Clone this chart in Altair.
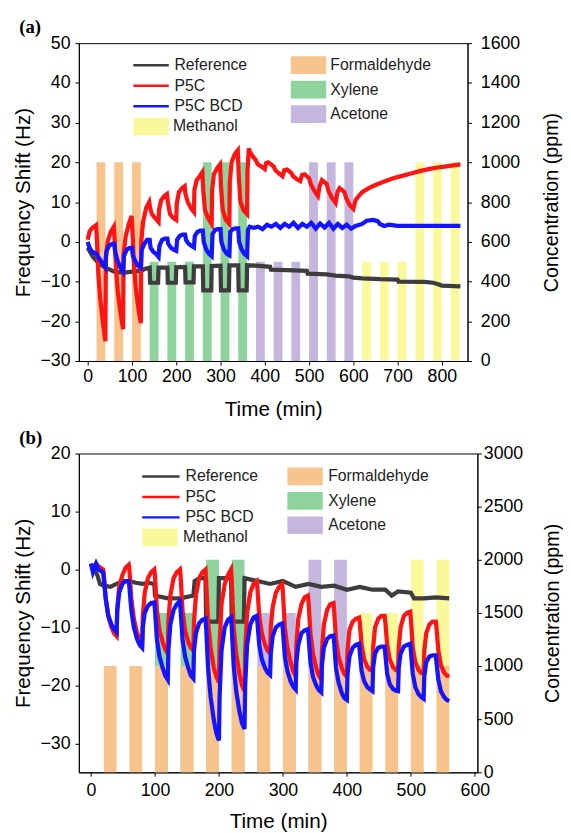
import altair as alt
import pandas as pd

FONT = "Liberation Sans"
SERIES = ["Reference", "P5C", "P5C BCD"]
LINE_COLORS = ["#3d3d3d", "#ff1414", "#1414ff"]
GAS_MAIN = ["Formaldehyde", "Xylene", "Acetone"]
GAS_MAIN_COLORS = ["#f8c48e", "#8ed39b", "#c4b6dc"]
GAS_METH = ["Methanol"]
GAS_METH_COLORS = ["#f9f99c"]

# ---------------- panel (a) ----------------
A_REF_T = [0, 5, 12, 20, 30, 40, 50, 60, 80, 100, 120, 130, 140, 141, 159, 160, 180, 181, 199, 200,
           220, 221, 239, 240, 260, 261, 279, 280, 300, 301, 319, 320, 340, 341, 359, 360, 380, 400,
           412, 414, 450, 495, 497, 540, 560, 590, 600, 620, 660, 700, 702, 760, 780, 790, 800, 842]
A_REF_V = [-1.5, -2.5, -3.8, -4.8, -5.8, -6.5, -7, -7.5, -7.8, -7.5, -7.3, -6.8, -6.5, -10.3, -10.3, -6.5,
           -6.5, -10.3, -10.3, -6.4, -6.3, -10.2, -10.2, -6.2, -6.2, -12.2, -12.2, -6.1, -6.0, -12.2,
           -12.2, -5.9, -5.9, -12.2, -12.2, -5.9, -6, -6.2, -6.3, -7, -7.1, -7.3, -8, -8.2, -8.5, -8.7,
           -9, -9.2, -9.4, -9.5, -10, -10.1, -10.3, -10.6, -11, -11.2]

A_P5C_T = [0, 4, 10, 19, 21, 24, 28, 33, 37, 40, 41, 45, 52, 59, 61, 64, 68, 73, 77, 80, 81, 86, 93, 99,
           101, 104, 108, 113, 117, 120, 121, 125, 132, 139, 141, 145, 152, 160, 161, 166, 173, 179,
           181, 186, 193, 200, 201, 206, 213, 219, 221, 226, 233, 240, 241, 246, 253, 259, 261, 265,
           272, 280, 281, 285, 292, 299, 301, 305, 312, 320, 321, 325, 332, 339, 341, 345, 352, 360,
           361, 364, 367, 373, 380, 384, 392, 400, 403, 408, 414, 420, 424, 432, 440, 444, 450, 455,
           460, 464, 472, 480, 484, 490, 495, 500, 504, 512, 520, 524, 529, 535, 540, 544, 552, 560,
           564, 569, 575, 580, 584, 592, 600, 605, 612, 620, 635, 650, 670, 690, 710, 730, 750, 770,
           790, 810, 830, 842]
A_P5C_V = [0.5, 2.5, 3.5, 4.2, 0, -8, -14, -19, -22.5, -25, -4, 0, 2.5, 3.8, 0, -7, -12.5, -17, -20,
           -22, -3, 1.5, 4.5, 6.5, 3, -5, -11, -15.5, -18.5, -20.5, 0, 5, 8.5, 10, 8.5, 7, 6, 5, 8,
           10.5, 11.5, 12, 10, 7, 6, 5.5, 9.5, 12.5, 13.5, 14, 12, 10, 8.5, 7.5, 13, 15.5, 16.5, 17.5,
           13, 8, 6, 4.5, 13, 17, 18.5, 19.5, 14, 8, 5.5, 4.5, 15, 20, 22, 23, 17, 10, 8, 7, 18, 23.5,
           22.5, 21.5, 20.5, 19.5, 19, 18.3, 19.8, 20, 19.5, 19, 18, 17.2, 16.5, 18, 18.2, 17.8, 17.3,
           16.5, 15.8, 15.3, 16.8, 17, 16.5, 16, 14.5, 12.8, 11.5, 14, 15.5, 15, 14.5, 12.8, 11, 9.8,
           12.5, 13.5, 13, 12.5, 11, 9.2, 8.3, 10.5, 11.5, 12.5, 13.5, 14.3, 15.2, 16, 16.6, 17.2,
           17.8, 18.3, 18.7, 19, 19.3, 19.5]

A_BCD_T = [0, 4, 10, 19, 22, 28, 34, 40, 42, 48, 55, 60, 62, 68, 74, 80, 82, 88, 95, 100, 102, 108,
           114, 120, 122, 128, 134, 140, 142, 148, 154, 160, 162, 168, 174, 180, 182, 188, 194, 200,
           202, 208, 214, 220, 222, 228, 234, 240, 242, 248, 254, 260, 262, 268, 274, 280, 282, 288,
           294, 300, 302, 308, 314, 320, 322, 328, 334, 340, 342, 348, 354, 360, 362, 366, 375, 385,
           395, 405, 415, 425, 435, 445, 455, 465, 475, 485, 495, 505, 515, 525, 535, 545, 555, 565,
           575, 585, 595, 605, 620, 630, 645, 655, 660, 670, 680, 700, 720, 740, 760, 780, 800, 820,
           842]
A_BCD_V = [0, -1.5, -2.5, -3, -3.5, -4.5, -5.5, -6.5, -2.5, -1, -0.5, -0.5, -2.5, -5, -6.5, -7.5,
           -3.5, -2, -1.5, -1.5, -3.5, -5, -6, -6.5, -2, -0.5, 0.5, 0.5, -1.5, -2.5, -3, -3.8, -1,
           0.5, 0.8, 0.8, -0.5, -1.5, -2, -2.3, 0.5, 1.5, 1.8, 1.8, 0.5, -0.5, -1, -1.4, 1.5, 2.5,
           2.8, 2.8, 0, -2, -3, -3.6, 2, 3, 3.2, 3.2, 0, -2, -3, -3.4, 2.5, 3.2, 3.4, 3.4, 0, -2, -3,
           -3.6, 3, 3.8, 3.5, 3.8, 3.2, 4.3, 3.8, 4.5, 3.5, 4.5, 3.8, 4.8, 3.5, 4.5, 3.8, 4.8, 3.3,
           4.6, 3.6, 4.8, 3.3, 4.5, 3.5, 4.3, 3.3, 4, 4.5, 5.3, 5.5, 5.2, 4.5, 4, 4.3, 4, 4, 4, 4, 4,
           4, 4, 4]

A_BAR_GAS = ["Formaldehyde"] * 3 + ["Xylene"] * 6 + ["Acetone"] * 6 + ["Methanol"] * 6
A_BAR_START = [20, 60, 100, 140, 180, 220, 260, 300, 340, 380, 420, 460, 500, 540, 580,
               620, 660, 700, 740, 780, 820]
A_BAR_END = [40, 80, 120, 160, 200, 240, 280, 320, 360, 400, 440, 480, 520, 560, 600,
             640, 680, 720, 760, 800, 840]
A_BAR_CONC = [1000, 1000, 1000, 500, 500, 500, 1000, 1000, 1000, 500, 500, 500, 1000, 1000, 1000,
              500, 500, 500, 1000, 1000, 1000]

# ---------------- panel (b) ----------------
B_REF_T = [0, 5, 10, 14, 20, 30, 40, 50, 60, 70, 80, 90, 99, 100, 120, 140, 160, 162, 170, 179, 180,
           199, 200, 219, 220, 239, 240, 260, 280, 300, 320, 340, 360, 380, 400, 420, 440, 460, 470,
           480, 500, 505, 520, 540, 560]
B_REF_V = [0.5, 0, -1, -2.5, -2.8, -3, -2.5, -2, -2, -2.3, -2.5, -2.3, -2.5, -4.5, -5, -5, -4.5, -2,
           -1.5, -1.5, -9, -9, -1.5, -1.5, -9, -9, -1.5, -2, -2.5, -2, -3, -2.5, -3, -2.8, -3.5, -3,
           -3.5, -3.5, -4.5, -3.8, -4, -5, -5, -4.8, -5]

B_P5C_T = [0, 3, 8, 12, 19, 20, 23, 27, 32, 36, 40, 41, 44, 49, 54, 59, 60, 63, 67, 72, 76, 80, 81,
           84, 89, 94, 99, 100, 103, 107, 112, 116, 120, 121, 124, 129, 134, 139, 140, 143, 147, 152,
           156, 160, 161, 164, 169, 174, 179, 180, 183, 187, 192, 196, 200, 201, 204, 209, 214, 219,
           220, 223, 227, 232, 236, 240, 241, 244, 249, 254, 259, 260, 263, 267, 272, 276, 280, 281,
           284, 289, 294, 299, 300, 303, 307, 312, 316, 320, 321, 324, 329, 334, 339, 340, 343, 347,
           352, 356, 360, 361, 364, 369, 374, 379, 380, 383, 387, 392, 396, 400, 401, 404, 409, 414,
           419, 420, 423, 427, 432, 436, 440, 441, 444, 449, 454, 459, 460, 463, 467, 472, 476, 480,
           481, 484, 489, 494, 499, 500, 503, 507, 512, 516, 520, 521, 524, 529, 534, 539, 540, 543,
           547, 552, 556, 560]
B_P5C_V = [1, 0, 1, 0.5, 0, -1, -5, -8, -10, -11, -11.5, -7, -3, -1, 0.3, 0.8, 0, -5, -8.5, -11, -12,
           -12.5, -8, -4, -1.5, -0.5, 0, -1, -7, -10.5, -12.5, -13.8, -14.5, -9, -4.5, -1.5, -0.5, 0,
           -1, -7, -10.5, -12.5, -13.5, -14, -9, -4.5, -1.5, -0.5, 0, -2, -9, -13.5, -17, -18.5,
           -19.5, -13, -6, -2.5, -1, 0, -2, -10, -14.5, -18, -20, -21, -14, -7.5, -4, -2.5, -2, -3,
           -8, -11, -13, -14, -14.5, -10, -6.5, -4, -3, -2.5, -4, -10, -13.5, -16, -17.5, -18.5, -13,
           -8.5, -6, -4.8, -4.5, -5.5, -11, -14.5, -17, -18.3, -19, -14, -9.5, -7, -6, -5.8, -7, -12,
           -15, -17, -18, -18.5, -14, -10.5, -9, -8.5, -8.3, -9, -13, -15.5, -16.8, -17.3, -17.5,
           -13.5, -10, -8.5, -8, -8, -9, -13, -15.5, -16.8, -17.3, -17.5, -13.5, -10, -8, -7.5, -7.3,
           -8.5, -13.5, -16, -17.3, -17.8, -18, -14, -11, -9.5, -9, -9, -10, -14, -16.5, -17.8,
           -18.3, -18.5]

B_BCD_T = B_P5C_T
B_BCD_V = [1, -0.5, 1, 0, -0.5, -1.5, -5, -8, -9.5, -10.3, -10.8, -7, -4, -2.5, -2, -2, -3, -7,
           -10, -12, -13, -13.5, -10, -7.5, -6.3, -5.8, -5.7, -7, -12, -15, -17, -18.3, -19, -14,
           -9.5, -7, -6, -5.5, -7, -12, -15, -17, -18.3, -18.8, -14, -11, -9.3, -8.7, -8.5, -10,
           -17, -22, -26, -28.3, -29.5, -22, -14, -10, -8.7, -8.3, -10, -16.5, -21, -24.5, -26.5,
           -27.5, -20, -13, -9.5, -8.3, -8, -9, -13, -15.5, -17, -17.8, -18.2, -14.5, -11.5, -10,
           -9.5, -9.3, -10.5, -15, -17.5, -19.3, -20.2, -20.7, -16, -13, -11, -10.5, -10.3, -11.5,
           -16, -18.5, -20, -20.8, -21.2, -16.5, -13.5, -12, -11.5, -11.4, -12.5, -17, -19.5, -21.3,
           -22.2, -22.5, -18, -15, -13.5, -13, -12.8, -14, -17.5, -19.3, -20.3, -20.7, -21, -17,
           -14.5, -13.5, -13.3, -13.3, -14.5, -18, -19.8, -20.6, -20.9, -21, -17, -14.5, -13.3, -13,
           -12.8, -14, -18, -20.3, -21.5, -22, -22.3, -18.5, -16, -15, -14.8, -14.8, -16, -19, -21,
           -22, -22.5, -22.7]

B_BAR_GAS = (["Methanol"] * 4 + ["Xylene"] * 4 + ["Acetone"] * 4 + ["Formaldehyde"] * 14)
B_BAR_START = [420, 460, 500, 540, 100, 140, 180, 220, 260, 300, 340, 380,
               20, 60, 100, 140, 180, 220, 260, 300, 340, 380, 420, 460, 500, 540]
B_BAR_END = [440, 480, 520, 560, 120, 160, 200, 240, 280, 320, 360, 400,
             40, 80, 120, 160, 200, 240, 280, 320, 360, 400, 440, 480, 520, 560]
B_BAR_CONC = [1500, 1500, 2000, 2000, 1500, 1500, 2000, 2000, 1500, 1500, 2000, 2000,
              1000, 1000, 1000, 1000, 1000, 1000, 1000, 1000, 1000, 1000, 1000, 1000, 1000, 1000]


def lines_frame(tr, vr, tp, vp, tb, vb):
    parts = []
    for name, t, v in [("Reference", tr, vr), ("P5C", tp, vp), ("P5C BCD", tb, vb)]:
        parts.append(pd.DataFrame({"t": t, "v": v, "series": name}))
    return pd.concat(parts, ignore_index=True)


def bars_frame(gas, start, end, conc):
    df = pd.DataFrame({"gas": gas, "start": start, "end": end, "conc": conc})
    df["base"] = 0
    df["ord"] = range(len(df))
    return df


# legend glyphs: symbol size 196 -> scale 7 px per path unit; entry height 16/17 px
RECT_SYM = "M-1.143,-1.286H4V1.286H-1.143Z"        # 36 x 18 px box starting at x=0
LINE_SYM_A = "M-1.214,0H3.929"                      # 36 px line starting at x=0
LINE_SYM_B = "M-1.214,0H4.214"                      # 38 px line starting at x=0


def panel(title, lines_df, bars_df, xdom, xticks, ydom, yticks, cdom, cticks, w, h,
          leg, right_pad, right_title_pad, xlabel_pad, xtitle_pad):
    xscale = alt.Scale(domain=xdom, nice=False, zero=False)
    xaxis = alt.Axis(values=xticks, title="Time (min)", labelPadding=xlabel_pad,
                     titlePadding=xtitle_pad)
    caxis = alt.Axis(orient="right", values=cticks, format="d", title="Concentration (ppm)",
                     titleAngle=270, titleBaseline="top", labelPadding=right_pad,
                     titlePadding=right_title_pad, titleFontSize=20)

    meth = alt.Chart(bars_df[bars_df.gas == "Methanol"]).mark_rect().encode(
        x=alt.X("start:Q", scale=xscale, axis=xaxis),
        x2="end:Q",
        y=alt.Y("conc:Q", scale=alt.Scale(domain=cdom, nice=False), axis=None),
        y2="base:Q",
        fill=alt.Fill("gas:N", scale=alt.Scale(domain=GAS_METH, range=GAS_METH_COLORS),
                      legend=alt.Legend(orient="none", legendX=leg["mx"], legendY=leg["my"],
                                        title=None, symbolType=RECT_SYM, symbolSize=196,
                                        symbolOpacity=1, symbolStrokeWidth=0,
                                        labelOffset=leg["flo"])),
        order="ord:Q",
    )
    main = alt.Chart(bars_df[bars_df.gas != "Methanol"]).mark_rect().encode(
        x=alt.X("start:Q", scale=xscale, axis=xaxis),
        x2="end:Q",
        y=alt.Y("conc:Q", scale=alt.Scale(domain=cdom, nice=False), axis=caxis),
        y2="base:Q",
        fill=alt.Fill("gas:N", scale=alt.Scale(domain=GAS_MAIN, range=GAS_MAIN_COLORS),
                      legend=alt.Legend(orient="none", legendX=leg["fx"], legendY=leg["fy"],
                                        title=None, symbolType=RECT_SYM, symbolSize=196,
                                        symbolOpacity=1, symbolStrokeWidth=0,
                                        labelOffset=leg["flo"], rowPadding=4.8)),
        order="ord:Q",
    )
    lines = alt.Chart(lines_df).mark_line(strokeWidth=4.3).encode(
        x=alt.X("t:Q", scale=xscale, axis=xaxis),
        y=alt.Y("v:Q", scale=alt.Scale(domain=ydom, nice=False, zero=False),
                axis=alt.Axis(orient="left", values=yticks, title="Frequency Shift (Hz)",
                              labelPadding=5, titlePadding=7)),
        stroke=alt.Stroke("series:N", scale=alt.Scale(domain=SERIES, range=LINE_COLORS),
                          legend=alt.Legend(orient="none", legendX=leg["lx"], legendY=leg["ly"],
                                            title=None, symbolType=leg["lsym"], symbolSize=196,
                                            symbolStrokeWidth=2.5, labelOffset=leg["llo"],
                                            rowPadding=3.8)),
    )
    return alt.layer(meth, main, lines).resolve_scale(y="independent", fill="independent").properties(
        width=w, height=h,
        title=alt.TitleParams(title, anchor="start", font="Liberation Serif", fontSize=19,
                              fontWeight="bold", offset=-3, dx=7, color="black"),
    )


lines_a = lines_frame(A_REF_T, A_REF_V, A_P5C_T, A_P5C_V, A_BCD_T, A_BCD_V)
bars_a = bars_frame(A_BAR_GAS, A_BAR_START, A_BAR_END, A_BAR_CONC)
lines_b = lines_frame(B_REF_T, B_REF_V, B_P5C_T, B_P5C_V, B_BCD_T, B_BCD_V)
bars_b = bars_frame(B_BAR_GAS, B_BAR_START, B_BAR_END, B_BAR_CONC)

pa = panel("(a)", lines_a, bars_a, [-20, 858], list(range(0, 801, 100)),
           [-30, 50], list(range(-30, 51, 10)), [0, 1600], list(range(0, 1601, 200)),
           395, 323,
           dict(lx=55.4, ly=13.9, lsym=LINE_SYM_A, llo=24.8,
                fx=215.4, fy=14.4, mx=55.4, my=76.7, flo=24.2), 9, 22, 3, 13)
pb = panel("(b)", lines_b, bars_b, [-19, 604], list(range(0, 601, 100)),
           [-35, 20], list(range(-30, 21, 10)), [0, 3000], list(range(0, 3001, 500)),
           405, 324,
           dict(lx=64.4, ly=14.8, lsym=LINE_SYM_B, llo=27,
                fx=211.9, fy=15.3, mx=64.4, my=77.3, flo=25.5), 2, 20, 6, 11)

chart = alt.vconcat(pa, pb, spacing=8).resolve_scale(
    stroke="independent", fill="independent"
).properties(
    padding={"left": 3, "top": 3, "right": 0, "bottom": 0}
).configure_axis(
    labelFont=FONT, titleFont=FONT, labelFontSize=18, titleFontSize=21, titleFontWeight="normal",
    labelColor="black", titleColor="black", domainColor="black", tickColor="black",
    tickSize=4, labelPadding=3, grid=False,
).configure_legend(
    labelFont=FONT, labelFontSize=16, labelColor="#222222", padding=0,
).configure_view(stroke="black", strokeWidth=1)

chart.save("out.html", embed_options={"renderer": "svg", "actions": False})
